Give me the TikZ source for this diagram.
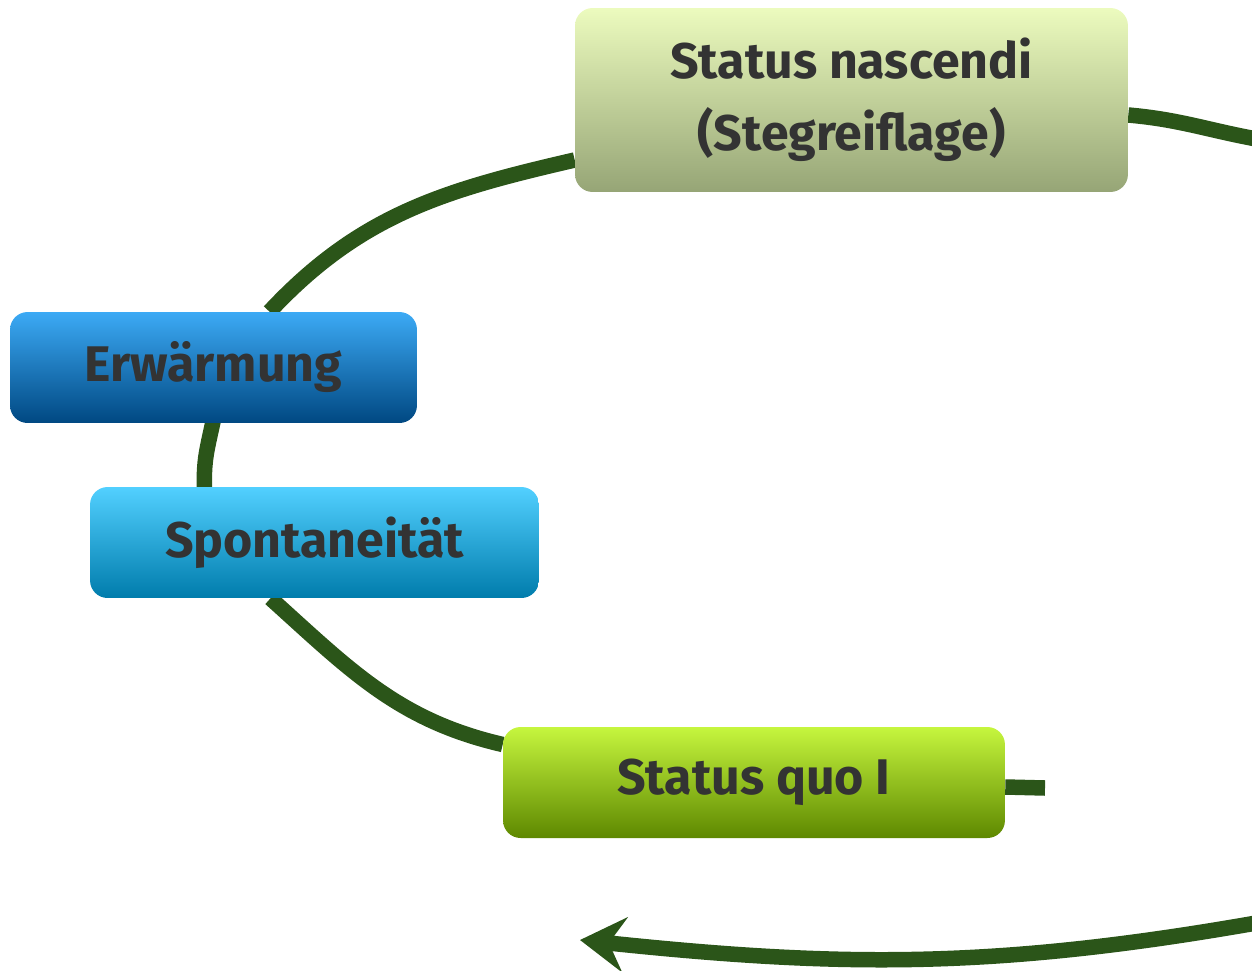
\documentclass[tikz,border=0pt]{standalone}
\usepackage{fontspec}
\setmainfont{Fira Sans}
\usetikzlibrary{arrows.meta,calc,backgrounds}

\definecolor{linkgreen}{HTML}{2B5519}
\definecolor{labelgray}{HTML}{333333}

\tikzset{
  box/.style={rounded corners=10pt, inner sep=0pt, align=center,
    text=labelgray, font=\fontsize{28.5}{41}\selectfont\bfseries},
  link/.style={draw=linkgreen, line width=0.31cm, line cap=butt},
}

\begin{document}
\begin{tikzpicture}[x=0.02cm, y=-0.02cm]
  \useasboundingbox (0,0) rectangle (1252,971);

  % process stages
  \node[box, minimum width=11.06cm, minimum height=3.68cm,
        top color={rgb,255:red,236;green,251;blue,190},
        bottom color={rgb,255:red,150;green,165;blue,118}]
        (nasc) at (851.5,100) {Status nascendi\\(Stegreiflage)};
  \node[box, minimum width=8.14cm, minimum height=2.22cm,
        top color={rgb,255:red,60;green,170;blue,245},
        middle color={rgb,255:red,0;green,112;blue,192},
        bottom color={rgb,255:red,0;green,72;blue,130}]
        (warm) at (213.5,367.5) {Erwärmung};
  \node[box, minimum width=8.98cm, minimum height=2.22cm,
        top color={rgb,255:red,82;green,208;blue,255},
        middle color={rgb,255:red,0;green,176;blue,240},
        bottom color={rgb,255:red,0;green,124;blue,172}]
        (spont) at (314.5,542.5) {Spontaneität};
  \node[box, minimum width=10.04cm, minimum height=2.22cm,
        top color={rgb,255:red,198;green,246;blue,62},
        middle color={rgb,255:red,140;green,200;blue,0},
        bottom color={rgb,255:red,94;green,136;blue,0}]
        (quo) at (754,782.5) {Status quo I};

  \coordinate (stub) at (1045,788);
  \coordinate (topin) at (1262,140);
  \coordinate (botin) at (1262,922);
  \coordinate (tip) at (580,940);

  \begin{scope}[on background layer]
    \draw[link] ($(nasc.west)+(0,60)$) to[out=193,in=47] ($(warm.north)+(56,0)$);
    \draw[link] ($(warm.south)+(0,-4)$) to[out=258,in=92,looseness=1.1] ($(spont.north)+(-110,4)$);
    \draw[link] ($(spont.south)+(-44,0)$) to[out=-42,in=167] ($(quo.west)+(0,-38)$);
    \draw[link] ($(quo.east)+(0,4.5)$) -- (stub);
    \draw[link] (topin) to[out=170,in=-5] ($(nasc.east)+(0,15)$);
    \draw[link,
          -{Stealth[length=0.9cm, width=1.1cm, inset=0.32cm]}]
          (botin) to[out=190,in=-6] (tip);
  \end{scope}
\end{tikzpicture}
\end{document}
